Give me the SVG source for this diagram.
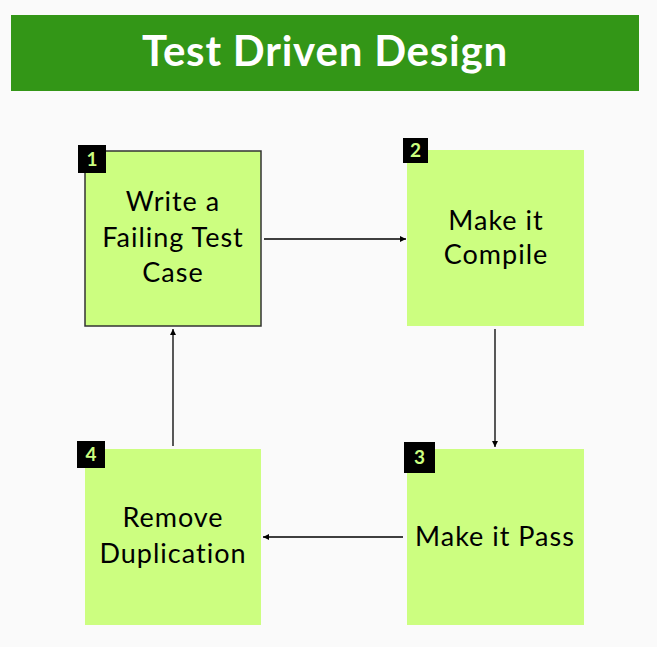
<svg xmlns="http://www.w3.org/2000/svg" width="657" height="647" viewBox="0 0 657 647">
<defs>
<style>
.box{fill:#ccfe80;}
.badge{fill:#000;}
.bn{font-family:Lato,"Liberation Sans",sans-serif;font-weight:bold;font-size:19px;fill:#ccfe80;text-anchor:middle;}
.lbl{font-family:Lato,"Liberation Sans",sans-serif;font-size:27px;letter-spacing:1px;fill:#000;text-anchor:middle;}
.ttl{font-family:Lato,"Liberation Sans",sans-serif;font-weight:bold;font-size:42px;letter-spacing:0.8px;fill:#fff;text-anchor:middle;}
.conn{stroke:#000;stroke-width:1.3;fill:none;marker-end:url(#ah);}
</style>
<marker id="ah" viewBox="0 0 10 10" refX="10" refY="5" markerWidth="6" markerHeight="6" orient="auto" markerUnits="userSpaceOnUse">
<path d="M0,0 L10,5 L0,10 z" fill="#000"/>
</marker>
</defs>
<rect width="657" height="647" fill="#fafafa"/>
<g id="title">
<rect x="11" y="15" width="628" height="76" fill="#339617"/>
<text class="ttl" x="325" y="66">Test Driven Design</text>
</g>
<g id="connectors">
<line class="conn" x1="264" y1="239" x2="406" y2="239"/>
<line class="conn" x1="495" y1="329" x2="495" y2="447"/>
<line class="conn" x1="403" y1="537" x2="263" y2="537"/>
<line class="conn" x1="173" y1="446" x2="173" y2="329"/>
</g>
<g id="node1">
<rect class="box" x="85" y="151" width="176" height="175" stroke="#333" stroke-width="1.5"/>
<rect class="badge" x="78" y="145" width="28" height="28"/>
<text class="bn" x="92" y="166">1</text>
<text class="lbl" x="173" y="211">Write a</text>
<text class="lbl" x="173" y="247">Failing Test</text>
<text class="lbl" x="173" y="282">Case</text>
</g>
<g id="node2">
<rect class="box" x="407" y="150" width="177" height="176"/>
<rect class="badge" x="403" y="138" width="25" height="25"/>
<text class="bn" x="415.5" y="157">2</text>
<text class="lbl" x="496" y="230">Make it</text>
<text class="lbl" x="496" y="264">Compile</text>
</g>
<g id="node3">
<rect class="box" x="407" y="449" width="177" height="176"/>
<rect class="badge" x="404" y="442" width="31" height="31"/>
<text class="bn" x="419.5" y="464">3</text>
<text class="lbl" x="495" y="546">Make it Pass</text>
</g>
<g id="node4">
<rect class="box" x="85" y="449" width="176" height="176"/>
<rect class="badge" x="77" y="441" width="28" height="27"/>
<text class="bn" x="91" y="461">4</text>
<text class="lbl" x="173" y="527">Remove</text>
<text class="lbl" x="173" y="563">Duplication</text>
</g>
</svg>
